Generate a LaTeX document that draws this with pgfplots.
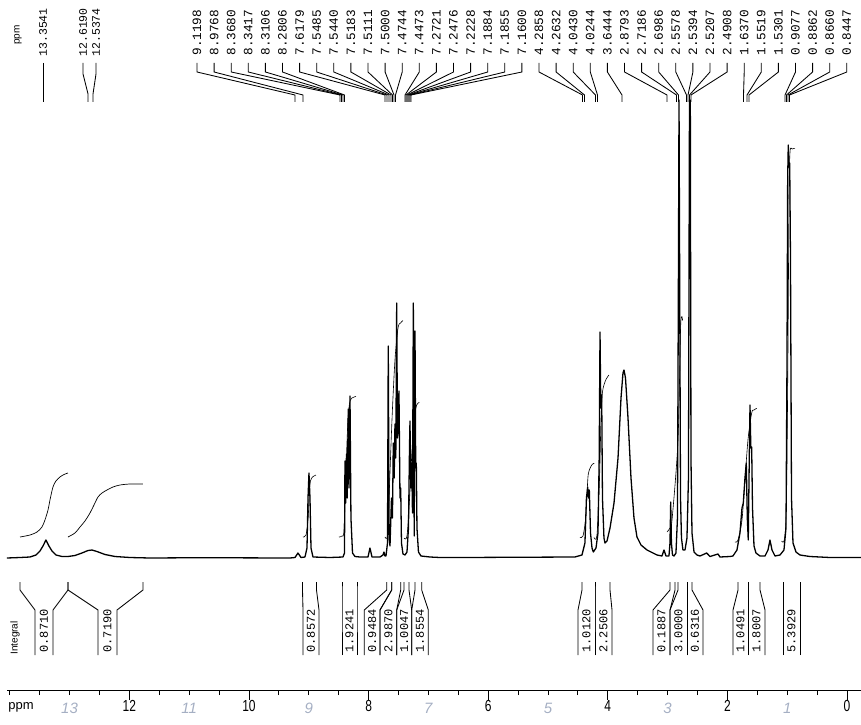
\documentclass[border=0pt]{standalone}
\usepackage{pgfplots}
\pgfplotsset{compat=1.18}
\usepackage{fontspec}
\setmainfont{Liberation Sans}
\newfontfamily\monofont{Liberation Mono}
\newcommand{\lbl}{\monofont\fontsize{12}{12}\selectfont}
\newcommand{\tlbl}{\monofont\fontsize{12.7}{12.7}\selectfont}
\newcommand{\slbl}{\monofont\fontsize{11.5}{11.5}\selectfont}
\definecolor{pencil}{RGB}{165,175,195}
\begin{document}
\begin{tikzpicture}
\begin{axis}[
  scale only axis, width=854pt, height=690pt,
  xmin=-0.234, xmax=14.047, ymin=-132, ymax=558,
  x dir=reverse,
  axis x line=bottom, axis y line=none,
  x axis line style={-, line width=0.9pt},
  xtick={0,2,...,12}, minor xtick={0.5,1,...,14},
  tick align=outside, major tick length=10pt, minor tick length=5pt,
  every tick/.style={black, line width=0.9pt},
  /pgf/number format/assume math mode=true,
  xticklabel style={font=\fontsize{16}{16}\selectfont, xscale=0.75, inner sep=0pt},
  clip=false,
]
\coordinate (O) at (axis cs:14.1639,558);
% spectrum
\addplot[black, line width=1.3pt, line join=round] coordinates {
(14.047,0) (13.829,0.5) (13.662,1) (13.562,3) (13.495,7) (13.445,12) (13.395,18)
(13.345,12) (13.294,7) (13.228,3) (13.127,1.5) (13.027,1.5) (12.910,2.5) (12.793,5)
(12.692,7.5) (12.625,8) (12.542,6.5) (12.408,3.5) (12.241,1.5) (11.990,0.5) (11.656,0)
(10.820,0.3) (9.315,0) (9.231,0.5) (9.181,5) (9.130,0.5) (9.064,1) (9.030,10)
(9.013,60) (8.997,85) (8.980,60) (8.963,10) (8.930,1) (8.646,0.5) (8.428,1)
(8.403,5) (8.395,97) (8.383,55) (8.370,104) (8.358,60) (8.340,149) (8.328,70)
(8.311,162) (8.295,40) (8.269,5) (8.228,1.5) (8.144,1) (8.010,1) (7.977,10) (7.943,1)
(7.810,1) (7.759,3) (7.743,6) (7.726,2) (7.709,2) (7.684,15) (7.671,212) (7.656,20)
(7.642,12) (7.617,60) (7.601,40) (7.587,115) (7.572,80) (7.559,134) (7.545,100)
(7.530,255) (7.517,120) (7.492,167) (7.475,60) (7.463,70) (7.450,15) (7.425,4)
(7.391,3) (7.358,6) (7.333,30) (7.316,110) (7.308,137) (7.294,70) (7.279,95)
(7.266,45) (7.252,255) (7.237,22) (7.224,227) (7.212,90) (7.202,95) (7.191,30)
(7.166,6) (7.124,2) (6.973,1) (6.806,0.5) (6.472,0.5) (4.549,1) (4.432,3) (4.382,15)
(4.357,60) (4.336,71) (4.323,60) (4.309,68) (4.289,25) (4.264,10) (4.242,6) (4.197,10)
(4.164,25) (4.144,100) (4.130,226) (4.117,150) (4.102,163) (4.089,60) (4.064,20)
(4.047,15) (4.013,17) (3.963,30) (3.896,55) (3.829,100) (3.779,160) (3.746,185)
(3.729,188) (3.704,180) (3.662,140) (3.612,80) (3.562,40) (3.512,21) (3.445,13)
(3.344,8) (3.177,3) (3.094,2) (3.060,8) (3.027,2) (2.977,2) (2.960,15) (2.948,56)
(2.936,15) (2.918,3) (2.893,2) (2.860,5) (2.835,40) (2.818,300) (2.809,458)
(2.799,300) (2.784,60) (2.768,20) (2.743,8) (2.709,8) (2.676,20) (2.651,80)
(2.634,458) (2.620,458) (2.609,100) (2.592,25) (2.558,6) (2.508,3) (2.458,2)
(2.346,5) (2.291,1.5) (2.157,4) (2.124,1) (1.957,1.5) (1.907,2) (1.840,8) (1.790,25)
(1.756,50) (1.734,55) (1.706,80) (1.684,95) (1.667,40) (1.651,18) (1.634,100)
(1.622,153) (1.608,110) (1.594,111) (1.580,50) (1.555,12) (1.522,5) (1.455,2)
(1.371,2) (1.321,8) (1.288,18) (1.254,8) (1.204,2) (1.120,3) (1.054,8) (1.020,30)
(1.003,200) (0.992,380) (0.982,413) (0.970,391) (0.958,395) (0.945,300) (0.928,60)
(0.903,15) (0.853,6) (0.786,3) (0.619,1.5) (0.284,0.5) (-0.234,0.5)
};
% integral traces
\addplot[black, line width=0.7pt, smooth] coordinates {
(13.829,21) (13.662,23) (13.545,26) (13.462,31) (13.412,38) (13.361,48) (13.328,58)
(13.278,71) (13.228,77) (13.161,81) (13.094,83.5) (13.027,85)};
\addplot[black, line width=0.7pt, smooth] coordinates {
(13.027,21) (12.910,25) (12.826,31) (12.743,37) (12.659,45) (12.592,53) (12.525,61)
(12.458,65) (12.375,68) (12.274,71) (12.157,73) (11.990,74) (11.773,74)};
\addplot[black, line width=0.6pt, smooth] coordinates {
(9.097,21) (9.047,23) (9.013,38) (8.988,68) (8.972,77) (8.938,81) (8.880,83)};
\addplot[black, line width=0.6pt, smooth] coordinates {
(8.495,21) (8.445,22) (8.411,28) (8.378,88) (8.345,138) (8.311,157) (8.261,160.5) (8.211,161.5)};
\addplot[black, line width=0.6pt, smooth] coordinates {
(7.726,21) (7.684,22) (7.659,58) (7.609,138) (7.559,198) (7.508,230) (7.467,235) (7.425,237.5)};
\addplot[black, line width=0.6pt, smooth] coordinates {
(7.408,20) (7.358,22) (7.316,58) (7.274,108) (7.241,138) (7.196,153) (7.152,155.5)};
\addplot[black, line width=0.6pt, smooth] coordinates {
(4.465,20.5) (4.415,22) (4.373,38) (4.348,63) (4.326,84) (4.269,93) (4.226,94.7)};
\addplot[black, line width=0.6pt, smooth] coordinates {
(4.231,20.5) (4.181,23) (4.139,78) (4.114,138) (4.089,166) (4.035,178) (3.980,183)};
\addplot[black, line width=0.6pt, smooth] coordinates {
(3.010,26) (2.960,30) (2.926,38) (2.826,118) (2.781,233) (2.748,237.3)};
\addplot[black, line width=0.6pt, smooth] coordinates {
(1.873,16) (1.823,18) (1.756,38) (1.706,78) (1.656,118) (1.594,145) (1.555,148) (1.510,149.7)};
\addplot[black, line width=0.6pt, smooth] coordinates {
(1.095,17) (1.045,19) (1.012,58) (0.987,208) (0.970,358) (0.953,406) (0.915,409) (0.870,409.7)};
% pencil numbers
\pgfplotsinvokeforeach{13,11,9,7,5,3,1}{
  \node[pencil, font=\fontsize{15}{15}\selectfont\itshape] at (axis cs:#1,-150) {#1};
}
\end{axis}
\begin{scope}[shift={(O)}, x=1pt, y=-1pt, line width=0.85pt]
  % top labels
  \node[rotate=90, font=\fontsize{10}{10}\selectfont, inner sep=0] at (18,35) {ppm};
  \node[rotate=90, anchor=west, font=\slbl, inner sep=0] at (43,57) {13.3541};
  \draw (43,63) -- (43,102);
  \node[rotate=90, anchor=west, font=\slbl, inner sep=0] at (83,57) {12.6190};
  \draw (83,63) -- (83,74) -- (88,94) -- (88,102);
  \node[rotate=90, anchor=west, font=\slbl, inner sep=0] at (96,57) {12.5374};
  \draw (96,63) -- (96,74) -- (93,94) -- (93,102);
  \foreach \t/\b [count=\i from 0] in {9.1198/295, 8.9768/303, 8.3680/340, 8.3417/341.5,
     8.3106/343, 8.2806/344.5, 7.6179/385, 7.5485/387, 7.5440/389, 7.5183/391,
     7.5111/392.5, 7.5000/394, 7.4744/395.5, 7.4473/405, 7.2721/406, 7.2476/407,
     7.2228/408, 7.1884/409, 7.1855/410, 7.1600/411, 4.2858/582.5, 4.2632/584.5,
     4.0430/595.5, 4.0244/597.5, 3.6444/622, 2.8793/667, 2.7186/676.5, 2.6986/678.5,
     2.5578/686.5, 2.5394/688, 2.5207/689.5, 2.4908/691, 1.6370/743.5, 1.5519/747,
     1.5301/749, 0.9077/785, 0.8862/786.5, 0.8660/788, 0.8447/789.5} {
    \pgfmathsetmacro\xx{197+17.1*\i}
    \node[rotate=90, anchor=west, font=\tlbl, inner sep=0] at (\xx,56) {\t};
    \draw (\xx,63) -- (\xx,72) -- (\b,95) -- (\b,102);
  }
  % integral boxes
  \node[rotate=90, anchor=west, font=\fontsize{10}{10}\selectfont, inner sep=0] at (15,655) {Integral};
  \foreach \L/\R/\a/\b/\t in {35/53/20/68/0.8710, 98/117/68/143/0.7190,
     303/319/302.5/316.5/0.8572, 342/357/342/357/1.9241, 364.3/380/386.7/391.7/0.9484,
     380/396.7/391.7/400.7/2.9870, 396.7/411.7/404/409/1.0047, 411.7/428.3/415/421.7/1.8554,
     578/595/582/595/1.0120, 595/612/595/610/2.2506, 653/670/670/675/0.1887,
     670/687/678/687/3.0000, 687/703/687/692/0.6316, 733/748/738/748/1.0491,
     748/765/748/760/1.8007, 783/800/783/800/5.3929} {
    \draw (\L,655) -- (\L,610) -- (\a,590) -- (\a,582);
    \draw (\R,655) -- (\R,610) -- (\b,590) -- (\b,582);
    \pgfmathsetmacro\cx{(\L+\R)/2}
    \node[rotate=90, anchor=west, font=\lbl, inner sep=0] at (\cx,653) {\t};
  }
  \node[font=\fontsize{13}{13}\selectfont, anchor=west, inner sep=0] at (8,707) {ppm};
\end{scope}
\pgfresetboundingbox
\path[shift={(O)}] (0pt,0pt) rectangle (861pt,-724pt);
\end{tikzpicture}
\end{document}
